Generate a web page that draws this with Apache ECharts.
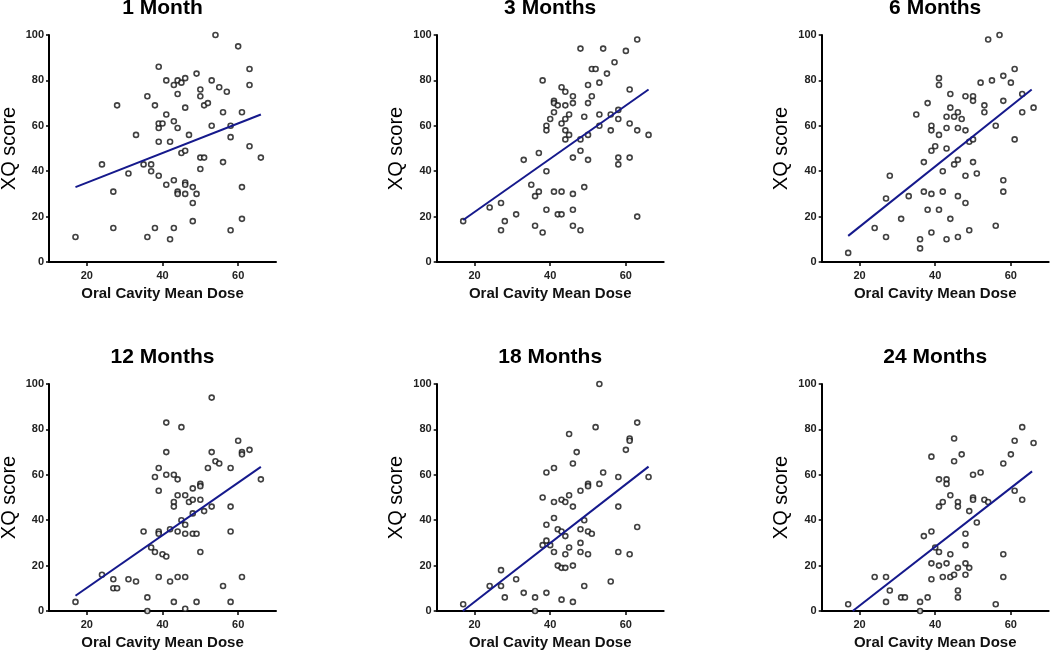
<!DOCTYPE html>
<html>
<head>
<meta charset="utf-8">
<script src="https://cdn.jsdelivr.net/npm/echarts@6/dist/echarts.min.js"></script>
<style>
html,body{margin:0;padding:0;background:#fff;}
#chart{width:1050px;height:650px;}
</style>
</head>
<body>
<div id="chart"></div>
<script>
const titles = ['1 Month', '3 Months', '6 Months', '12 Months', '18 Months', '24 Months'];
const xAxisTitle = 'Oral Cavity Mean Dose';
const yAxisTitle = 'XQ score';
const xTickValues = [20, 40, 60];
const yTickValues = [0, 20, 40, 60, 80, 100];

const m1 = [[17,11],[24,43],[27,31],[27,15],[28,69],[31,39],[33,56],[35,43],[36,73],[36,11],[37,43],[37,40],[38,69],[38,15],[39,86],[39,53],[39,38],[39,59],[39,61],[40,61],[41,65],[41,80],[41,34],[42,53],[42,10],[43,78],[43,62],[43,36],[43,15],[44,80],[44,74],[44,59],[44,31],[44,30],[45,79],[45,48],[46,81],[46,68],[46,49],[46,35],[46,34],[46,30],[47,56],[48,33],[48,26],[48,18],[49,83],[49,30],[50,76],[50,73],[50,46],[50,41],[51,69],[51,46],[52,70],[53,80],[53,60],[54,100],[55,77],[56,66],[56,44],[57,75],[58,60],[58,55],[58,14],[60,95],[61,66],[61,33],[61,19],[63,85],[63,78],[63,51],[66,46]];
const m3 = [[17,18],[24,24],[27,26],[27,14],[28,18],[31,21],[33,45],[35,34],[36,29],[36,16],[37,48],[37,31],[38,80],[38,13],[39,60],[39,58],[39,40],[39,23],[40,63],[41,71],[41,70],[41,66],[41,31],[42,69],[42,21],[43,77],[43,61],[43,31],[43,21],[44,75],[44,69],[44,63],[44,58],[44,54],[45,65],[45,56],[46,73],[46,70],[46,46],[46,30],[46,23],[46,16],[48,94],[48,54],[48,49],[48,14],[49,64],[49,33],[50,78],[50,70],[50,56],[50,45],[51,73],[51,85],[52,85],[53,79],[53,65],[53,60],[54,94],[55,83],[56,65],[56,58],[57,88],[58,67],[58,63],[58,46],[58,43],[60,93],[61,76],[61,61],[61,46],[63,98],[63,58],[63,20],[66,56]];
const m6 = [[17,4],[24,15],[27,28],[27,11],[28,38],[31,19],[33,29],[35,65],[36,10],[36,6],[37,44],[37,31],[38,70],[38,23],[39,60],[39,58],[39,49],[39,30],[39,13],[40,51],[41,81],[41,78],[41,56],[41,23],[42,40],[42,31],[43,64],[43,59],[43,50],[43,10],[44,74],[44,68],[44,19],[45,64],[45,43],[46,66],[46,59],[46,45],[46,29],[46,11],[47,63],[48,73],[48,58],[48,38],[48,26],[49,53],[49,14],[50,73],[50,71],[50,54],[50,44],[51,39],[52,79],[53,69],[53,66],[54,98],[55,80],[56,60],[56,16],[57,100],[58,82],[58,71],[58,36],[58,31],[60,79],[61,85],[61,54],[63,74],[63,66],[66,68]];
const m12 = [[17,4],[24,16],[27,14],[27,10],[28,10],[31,14],[33,13],[35,35],[36,6],[36,0],[37,28],[38,59],[38,26],[39,63],[39,53],[39,35],[39,34],[39,15],[40,25],[41,83],[41,70],[41,60],[41,24],[42,36],[42,13],[43,60],[43,48],[43,46],[43,4],[44,58],[44,51],[44,35],[44,15],[45,81],[45,40],[46,51],[46,38],[46,34],[46,15],[46,1],[47,48],[48,54],[48,49],[48,43],[48,34],[49,34],[49,4],[50,56],[50,55],[50,49],[50,26],[51,44],[52,63],[53,94],[53,70],[53,46],[54,66],[55,65],[56,11],[58,63],[58,46],[58,35],[58,4],[60,75],[61,70],[61,69],[61,15],[63,71],[66,58]];
const m18 = [[17,3],[24,11],[27,18],[27,11],[28,6],[31,14],[33,8],[36,6],[36,0],[38,50],[38,29],[39,61],[39,38],[39,31],[39,8],[40,29],[41,63],[41,48],[41,41],[41,26],[42,36],[42,20],[43,49],[43,35],[43,19],[43,5],[44,48],[44,33],[44,25],[44,19],[45,78],[45,51],[45,28],[46,65],[46,46],[46,20],[46,4],[47,70],[48,53],[48,36],[48,30],[48,26],[49,40],[49,11],[50,56],[50,55],[50,35],[50,25],[51,34],[52,81],[53,56],[53,100],[54,61],[56,13],[58,59],[58,46],[58,26],[60,71],[61,76],[61,75],[61,25],[63,83],[63,37],[66,59]];
const m24 = [[17,3],[24,15],[27,15],[27,4],[28,9],[31,6],[32,6],[36,4],[36,0],[37,33],[38,6],[39,68],[39,35],[39,21],[39,14],[40,28],[41,58],[41,46],[41,26],[41,20],[42,48],[42,15],[43,58],[43,56],[43,21],[44,51],[44,25],[44,15],[45,76],[45,66],[45,16],[46,48],[46,46],[46,19],[46,9],[46,6],[47,69],[48,34],[48,29],[48,21],[48,16],[49,44],[49,19],[50,60],[50,50],[50,49],[51,39],[52,61],[53,49],[54,48],[56,3],[58,65],[58,25],[58,15],[60,69],[61,75],[61,53],[63,81],[63,49],[66,74]];
const panelsData = [m1, m3, m6, m12, m18, m24];

// regression line end points
const fit1 = [[17,33],[66,65]];
const fit3 = [[17,18.5],[66,76]];
const fit6 = [[17,11.5],[65.5,76]];
const fit12 = [[17,6.7],[66,63.5]];
const fit18 = [[16.9,0],[66,63.6]];
const fit24 = [[18.2,0],[65.6,61.5]];
const fitsData = [fit1, fit3, fit6, fit12, fit18, fit24];

const gridLefts = [49, 436.7, 821.7];
const gridTops = [35, 384];
const titleTops = [-2, 347];
const gridW = 227, gridH = 227;

const grids = [], xAxes = [], yAxes = [], series = [], titleOpts = [];
for (let i = 0; i < 6; i++) {
  const col = i % 3, row = Math.floor(i / 3);
  const left = gridLefts[col], top = gridTops[row];
  grids.push({left: left, top: top, width: gridW, height: gridH, containLabel: false, outerBoundsMode: 'none'});
  titleOpts.push({
    text: titles[i], left: left + gridW / 2, top: titleTops[row], textAlign: 'center', padding: 0,
    textStyle: {fontFamily: 'Liberation Sans, Arial, sans-serif', fontSize: 21, fontWeight: 'bold', color: '#000'}
  });
  xAxes.push({
    gridIndex: i, type: 'value', min: 10, max: 70,
    name: xAxisTitle, nameLocation: 'middle', nameGap: 24,
    nameTextStyle: {fontFamily: 'Liberation Sans, Arial, sans-serif', fontSize: 15, fontWeight: 'bold', color: '#111'},
    axisLine: {show: true, onZero: false, lineStyle: {color: '#000', width: 2}},
    axisTick: {show: true, length: 4, customValues: xTickValues, lineStyle: {color: '#000', width: 1.5}},
    axisLabel: {customValues: xTickValues, margin: 8, fontFamily: 'Liberation Sans, Arial, sans-serif', fontSize: 11, fontWeight: 'bold', color: '#222'},
    splitLine: {show: false}
  });
  yAxes.push({
    gridIndex: i, type: 'value', min: 0, max: 100, interval: 20,
    name: yAxisTitle, nameLocation: 'middle', nameGap: 30, nameRotate: 90,
    nameTextStyle: {fontFamily: 'Liberation Sans, Arial, sans-serif', fontSize: 20, color: '#000'},
    axisLine: {show: true, onZero: false, lineStyle: {color: '#000', width: 2}},
    axisTick: {show: true, length: 3, customValues: yTickValues, lineStyle: {color: '#000', width: 1.5}},
    axisLabel: {customValues: yTickValues, margin: 5, fontFamily: 'Liberation Sans, Arial, sans-serif', fontSize: 11, fontWeight: 'bold', color: '#222'},
    splitLine: {show: false}
  });
  series.push({
    type: 'scatter', xAxisIndex: i, yAxisIndex: i, data: panelsData[i],
    symbol: 'circle', symbolSize: 5,
    itemStyle: {color: '#fff', borderColor: '#111', borderWidth: 1.6},
    emphasis: {disabled: true}, z: 2
  });
  series.push({
    type: 'line', xAxisIndex: i, yAxisIndex: i, data: fitsData[i],
    showSymbol: false, symbol: 'none',
    lineStyle: {color: '#15198c', width: 2},
    emphasis: {disabled: true}, z: 3
  });
}

const chart = echarts.init(document.getElementById('chart'), null, {renderer: 'canvas'});
chart.setOption({
  animation: false,
  backgroundColor: '#fff',
  title: titleOpts,
  grid: grids,
  xAxis: xAxes,
  yAxis: yAxes,
  series: series
});
</script>
</body>
</html>
